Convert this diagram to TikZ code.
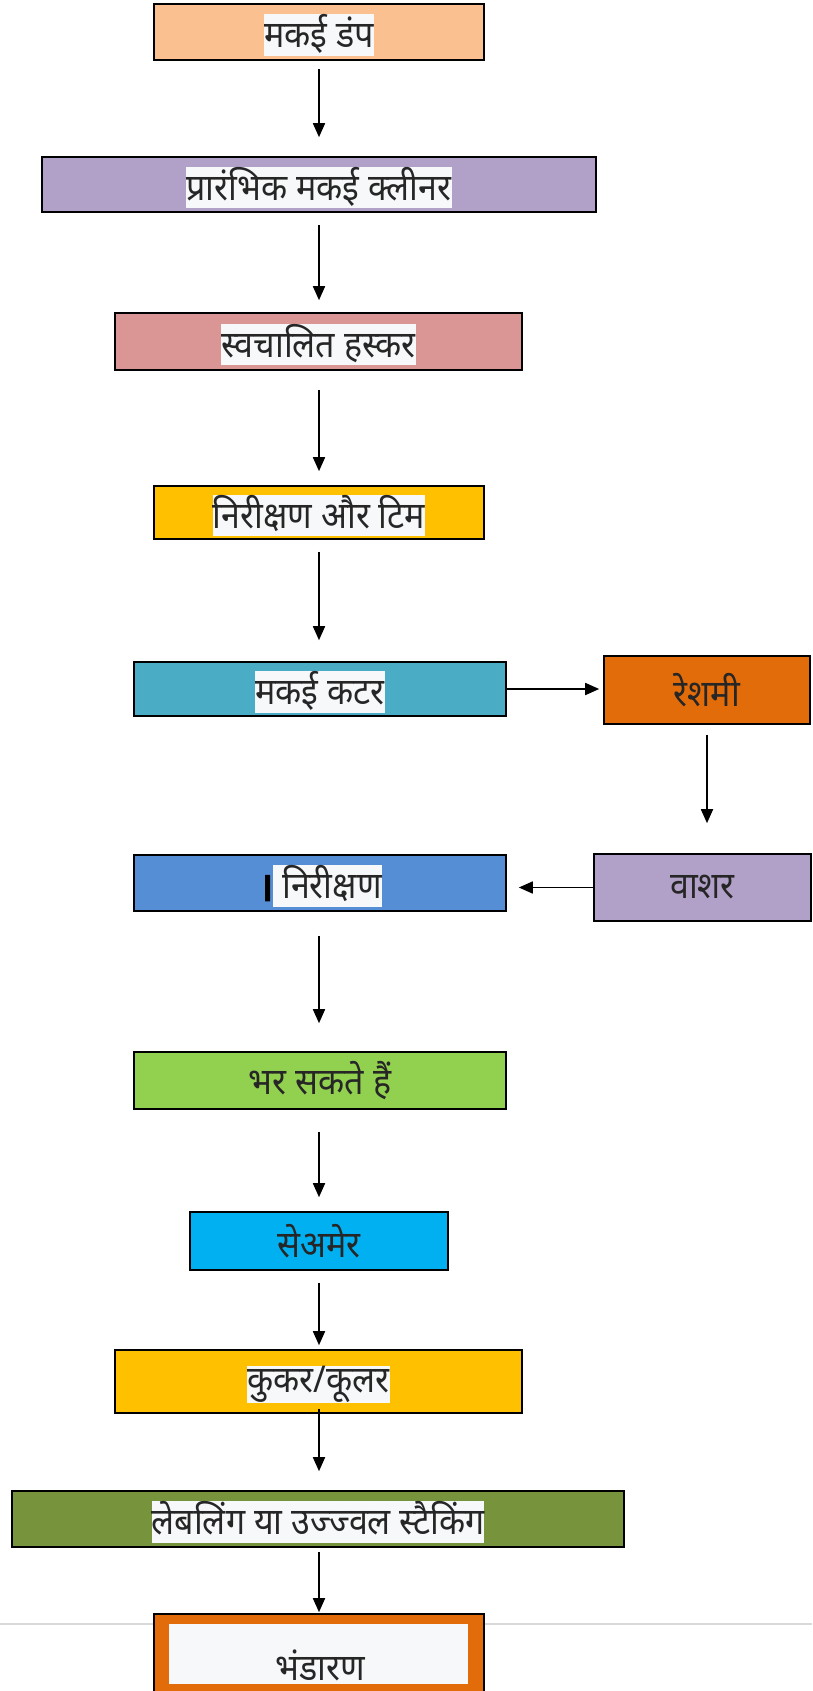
\documentclass[tikz,border=0pt]{standalone}
\usepackage{fontspec}
\newfontfamily\dev[Script=Devanagari,FakeStretch=0.92]{Noto Sans}
\newfontfamily\devb[Script=Devanagari,FakeBold=4]{Noto Sans}
\usetikzlibrary{arrows.meta,calc}
\definecolor{c1}{HTML}{FAC090}
\definecolor{c2}{HTML}{B1A0C7}
\definecolor{c3}{HTML}{DA9694}
\definecolor{c4}{HTML}{FFC000}
\definecolor{c5}{HTML}{4BACC6}
\definecolor{c6}{HTML}{E26B0A}
\definecolor{c8}{HTML}{558ED5}
\definecolor{c9}{HTML}{92D050}
\definecolor{c10}{HTML}{00B0F0}
\definecolor{c12}{HTML}{77933C}
\definecolor{hlc}{HTML}{F7F8FA}
\definecolor{txt}{HTML}{262626}
\definecolor{rulec}{HTML}{D9D9D9}
\newcommand{\hlt}[1]{\raisebox{-3pt}[\height][\depth]{{\setlength\fboxsep{0pt}\colorbox{hlc}{\rule[-8pt]{0pt}{35pt}#1}}}}
\begin{document}
\begin{tikzpicture}[x=1pt,y=-1pt,
  flowbox/.style={draw=black,line width=1.6pt,inner sep=0pt,font=\dev\fontsize{37}{42}\selectfont,text=txt},
  arr/.style={line width=1.7pt,-{Triangle[length=14pt,width=12pt]}}]
\useasboundingbox (0,0) rectangle (812,1691);
\draw[rulec,line width=1.5pt] (0,1624) -- (812,1624);
\node[flowbox,fill=c1,minimum width=330pt,minimum height=56pt] (b1) at (319,32) {\hlt{मकई डंप}};
\node[flowbox,fill=c2,minimum width=554pt,minimum height=55pt] (b2) at (319,184.5) {\hlt{प्रारंभिक मकई क्लीनर}};
\node[flowbox,fill=c3,minimum width=407pt,minimum height=57pt] (b3) at (318.5,341.5) {\hlt{स्वचालित हस्कर}};
\node[flowbox,fill=c4,minimum width=330pt,minimum height=53pt] (b4) at (319,512.5) {\hlt{निरीक्षण और टिम}};
\node[flowbox,fill=c5,minimum width=372pt,minimum height=54pt] (b5) at (320,689) {\hlt{मकई कटर}};
\node[flowbox,fill=c6,minimum width=206pt,minimum height=68pt] (b6) at (707,690) {रेशमी};
\node[flowbox,fill=c2,minimum width=217pt,minimum height=67pt] (b7) at (702.5,887.5) {वाशर};
\node[flowbox,fill=c8,minimum width=372pt,minimum height=56pt] (b8) at (320,883) {\raisebox{-5pt}[\height][\depth]{\color{black}\devb\fontsize{40}{42}\selectfont ।}\hlt{ निरीक्षण}};
\node[flowbox,fill=c9,minimum width=372pt,minimum height=57pt] (b9) at (320,1080.5) {भर सकते हैं};
\node[flowbox,fill=c10,minimum width=258pt,minimum height=58pt] (b10) at (319,1241) {सेअमेर};
\node[flowbox,fill=c4,minimum width=407pt,minimum height=63pt] (b11) at (318.5,1381.5) {\hlt{कुकर/कूलर}};
\node[flowbox,fill=c12,minimum width=612pt,minimum height=56pt] (b12) at (318,1519) {\hlt{लेबलिंग या उज्ज्वल स्टैकिंग}};
\node[flowbox,fill=c6,minimum width=330pt,minimum height=96pt] (b13) at (319,1662) {};
\node[flowbox,draw=none,fill=hlc,minimum width=299pt,minimum height=60pt] (b13in) at (318.5,1654) {};
\node[font=\dev\fontsize{37}{42}\selectfont,text=txt] (t13) at (320,1665) {भंडारण};
\draw[arr,shorten <=8pt,shorten >=19pt] (b1.south) -- (b2.north);
\draw[arr,shorten <=12pt,shorten >=12pt] (b2.south) -- (b2.south |- b3.north);
\draw[arr,shorten <=19pt,shorten >=14pt] (b3.south -| b2.south) -- (b4.north);
\draw[arr,shorten <=12pt,shorten >=21pt] (b4.south) -- (b4.south |- b5.north);
\draw[arr,shorten >=4pt] (b6.west |- b5.east) coordinate (tmp) (b5.east) -- (tmp);
\draw[arr,shorten <=10pt,shorten >=30pt] (b6.south) -- (b6.south |- b7.north);
\draw[arr,shorten >=12pt] (b7.west) -- (b7.west -| b8.east);
\draw[arr,shorten <=24pt,shorten >=28pt] (b8.south -| b4.south) -- (b4.south |- b9.north);
\draw[arr,shorten <=22pt,shorten >=14pt] (b9.south -| b4.south) -- (b4.south |- b10.north);
\draw[arr,shorten <=12pt,shorten >=4pt] (b10.south) -- (b10.south |- b11.north);
\draw[arr,shorten <=-5pt,shorten >=19pt] (b11.south -| b10.south) -- (b10.south |- b12.north);
\draw[arr,shorten <=4pt,shorten >=1pt] (b12.south -| b10.south) -- (b10.south |- b13.north);
\end{tikzpicture}
\end{document}
